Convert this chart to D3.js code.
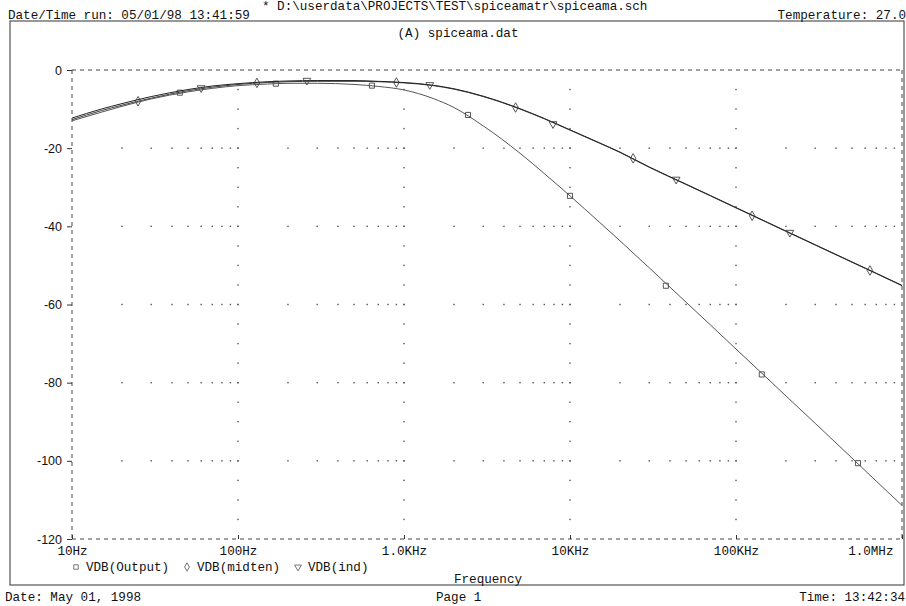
<!DOCTYPE html>
<html>
<head>
<meta charset="utf-8">
<script src="https://cdn.jsdelivr.net/npm/d3@7"></script>
<style>
  body { margin: 0; background: #fff; }
  svg text { font-family: "Liberation Mono", "DejaVu Sans Mono", monospace; font-size: 12.6px; fill: #111; }
  .ylab text { font-family: "Liberation Sans", Arial, sans-serif; font-size: 12.5px; }
</style>
</head>
<body>
<svg id="plot" width="906" height="606"></svg>
<script>
// frequency points (Hz)
const freqs = [10, 15, 20, 30, 50, 70, 100, 150, 200, 300, 500, 700, 1000, 1500, 2000, 3000,
  5000, 7000, 10000, 15000, 20000, 30000, 50000, 70000, 100000, 150000, 200000, 300000,
  500000, 700000, 1000000];

const vdbOutput = [-13.0, -10.8, -9.3, -7.4, -5.6, -4.7, -4.0, -3.6, -3.4, -3.4, -3.7, -4.2, -5.1,
  -7.3, -9.6, -14.3, -21.3, -26.5, -32.2, -38.9, -43.7, -50.6, -59.4, -65.2, -71.4, -78.4,
  -83.4, -90.4, -99.3, -105.2, -111.4];
const vdbMidten = [-12.7, -10.4, -9.0, -7.2, -5.3, -4.4, -3.7, -3.2, -3.0, -2.9, -2.9, -3.0, -3.3,
  -4.0, -4.9, -6.8, -10.0, -12.5, -15.4, -18.7, -21.1, -24.9, -29.3, -32.2, -35.3, -38.8,
  -41.3, -44.8, -49.2, -52.1, -55.2];
const vdbInd = [-12.3, -10.0, -8.6, -6.8, -5.0, -4.1, -3.5, -3.0, -2.8, -2.7, -2.7, -2.9, -3.2,
  -3.9, -4.8, -6.7, -9.9, -12.4, -15.3, -18.6, -21.0, -24.8, -29.2, -32.1, -35.2, -38.7,
  -41.2, -44.7, -49.1, -52.0, -55.1];

// marker positions [freq, dB] as drawn on each trace
const markOutput = [[44.6, -5.8], [169, -3.5], [641, -4.0], [2430, -11.5], [10000, -32.2],
  [37800, -55.2], [143000, -77.9], [543000, -100.6]];
const markMidten = [[25, -8.0], [130, -3.3], [900, -3.2], [4700, -9.6], [24000, -22.6],
  [125000, -37.3], [641000, -51.3]];
const markInd = [[60, -4.6], [260, -2.7], [1430, -3.8], [7900, -13.8], [43600, -28.0],
  [211000, -41.6]];

const yTicks = [0, -20, -40, -60, -80, -100, -120];
const xTicks = [10, 100, 1000, 10000, 100000, 1000000];
const xTickLabels = ["10Hz", "100Hz", "1.0KHz", "10KHz", "100KHz", "1.0MHz"];
const legendNames = ["VDB(Output)", "VDB(midten)", "VDB(ind)"];

const svg = d3.select("#plot");

const x = d3.scaleLog().domain([10, 1e6]).range([72, 902]);
const y = d3.scaleLinear().domain([-120, 0]).range([539, 70]);

// page frame
svg.append("rect").attr("x", 10).attr("y", 21).attr("width", 894).attr("height", 564)
  .attr("fill", "none").attr("stroke", "#333").attr("stroke-width", 1);

// header / footer text
svg.append("text").attr("x", 262).attr("y", 10).text("* D:\\userdata\\PROJECTS\\TEST\\spiceamatr\\spiceama.sch");
svg.append("text").attr("x", 8).attr("y", 19).text("Date/Time run: 05/01/98 13:41:59");
svg.append("text").attr("x", 906).attr("y", 19).attr("text-anchor", "end").text("Temperature: 27.0");
svg.append("text").attr("x", 458).attr("y", 37).attr("text-anchor", "middle").text("(A) spiceama.dat");
svg.append("text").attr("x", 488).attr("y", 583).attr("text-anchor", "middle").text("Frequency");
svg.append("text").attr("x", 5).attr("y", 601).text("Date: May 01, 1998");
svg.append("text").attr("x", 436).attr("y", 601).text("Page 1");
svg.append("text").attr("x", 905).attr("y", 601).attr("text-anchor", "end").text("Time: 13:42:34");

// grid dots: horizontal majors at every minor x tick, vertical majors every 5 dB
let minorX = [];
for (let d = 10; d < 1e6; d *= 10) for (let k = 1; k < 10; k++) minorX.push(d * k);
let g = svg.append("g");
yTicks.slice(1, -1).forEach(v => {
  g.selectAll(null).data(minorX.slice(1)).enter().append("rect")
    .attr("x", d => x(d) - 0.7).attr("y", y(v) - 0.7).attr("width", 1.4).attr("height", 1.4)
    .attr("fill", "#555");
});
let minorY = d3.range(-115, 0, 5);
xTicks.slice(1, -1).forEach(f => {
  g.selectAll(null).data(minorY).enter().append("rect")
    .attr("x", x(f) - 0.7).attr("y", d => y(d) - 0.7).attr("width", 1.4).attr("height", 1.4)
    .attr("fill", "#555");
});

// dashed plot border
const dash = "4,4";
[[x(10), y(0), x(1e6), y(0)], [x(10), y(-120), x(1e6), y(-120)],
 [x(10), y(0), x(10), y(-120)], [x(1e6), y(0), x(1e6), y(-120)]].forEach(l => {
  svg.append("line").attr("x1", l[0]).attr("y1", l[1]).attr("x2", l[2]).attr("y2", l[3])
    .attr("stroke", "#444").attr("stroke-dasharray", dash);
});

// axes
let yAxis = svg.append("g").attr("class", "ylab").attr("transform", "translate(" + x(10) + ",0)")
  .call(d3.axisLeft(y).tickValues(yTicks).tickSize(5).tickPadding(5).tickFormat(d => String(d)));
yAxis.select(".domain").remove();
yAxis.selectAll("line").attr("stroke", "#333");

let xAxis = svg.append("g").attr("transform", "translate(0," + y(-120) + ")")
  .call(d3.axisBottom(x).tickValues(xTicks).tickSizeInner(-4).tickSizeOuter(0).tickPadding(7)
    .tickFormat((d, i) => xTickLabels[i]));
xAxis.select(".domain").remove();
xAxis.selectAll("line").attr("stroke", "#333");
xAxis.selectAll("text").filter((d, i) => i === xTicks.length - 1)
  .attr("text-anchor", "end").attr("x", -9);
svg.selectAll(".tick text").attr("fill", "#111");

// traces
const line = d3.line()
  .curve(d3.curveMonotoneX)
  .x(d => x(d[0]))
  .y(d => y(d[1]));

const series = [
  {vals: vdbOutput, marks: markOutput, sym: d3.symbolSquare, rot: 0, color: "#555"},
  {vals: vdbMidten, marks: markMidten, sym: d3.symbolDiamond, rot: 0, color: "#444"},
  {vals: vdbInd, marks: markInd, sym: d3.symbolTriangle, rot: 180, color: "#222"}
];

series.forEach(s => {
  svg.append("path")
    .attr("d", line(freqs.map((f, i) => [f, s.vals[i]])))
    .attr("fill", "none").attr("stroke", s.color).attr("stroke-width", 1);
  svg.selectAll(null).data(s.marks).enter().append("path")
    .attr("d", d3.symbol().type(s.sym).size(26))
    .attr("transform", d => "translate(" + x(d[0]) + "," + y(d[1]) + ") rotate(" + s.rot + ")")
    .attr("fill", "none").attr("stroke", "#444").attr("stroke-width", 0.9);
});

// legend
const legX = [76, 187, 298];
series.forEach((s, i) => {
  svg.append("path").attr("d", d3.symbol().type(s.sym).size(20))
    .attr("transform", "translate(" + legX[i] + ",567) rotate(" + s.rot + ")")
    .attr("fill", "none").attr("stroke", "#666").attr("stroke-width", 0.9);
  svg.append("text").attr("x", legX[i] + 10).attr("y", 571).text(legendNames[i]);
});
</script>
</body>
</html>
